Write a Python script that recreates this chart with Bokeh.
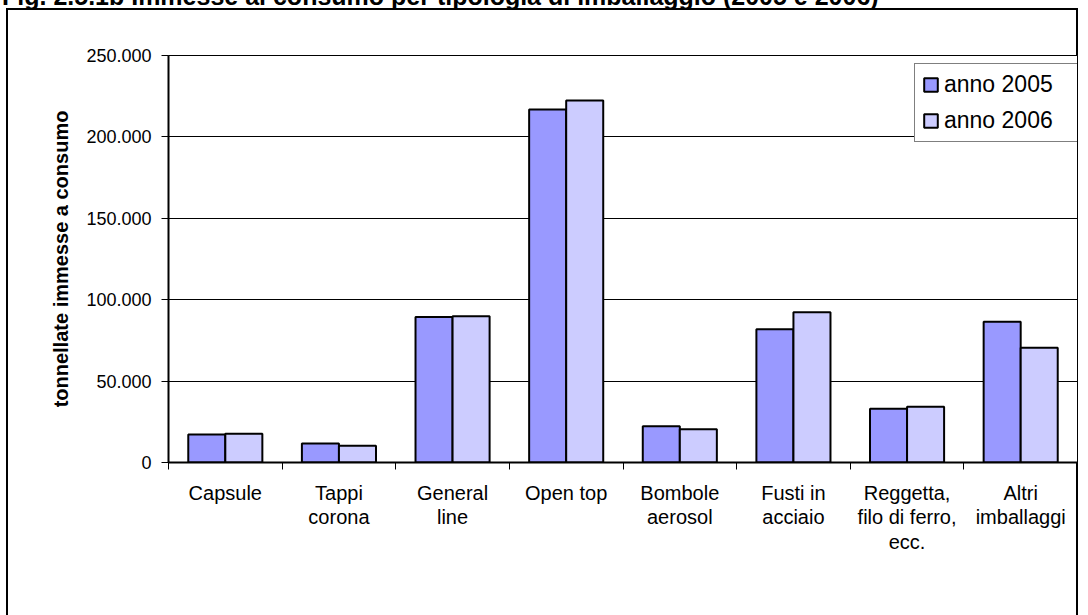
from bokeh.plotting import figure
from bokeh.models import (Range1d, FixedTicker, ColumnDataSource, Legend, LegendItem, Div)
from bokeh.embed import file_html
from bokeh.resources import INLINE

# ---- data ----
categories = ["Capsule", "Tappi\ncorona", "General\nline", "Open top", "Bombole\naerosol",
              "Fusti in\nacciaio", "Reggetta,\nfilo di ferro,\necc.", "Altri\nimballaggi"]
anno_2005 = [17200, 11700, 89300, 216800, 22300, 81900, 33000, 86400]
anno_2006 = [17600, 10300, 89900, 222400, 20500, 92300, 34200, 70500]
series_names = ["anno 2005", "anno 2006"]
y_ticks = [0, 50000, 100000, 150000, 200000, 250000]
title_text = "Fig. 2.5.1b Immesse al consumo per tipologia di imballaggio (2005 e 2006)"
y_label = "tonnellate immesse a consumo"

FONT = "Liberation Sans"
n = len(categories)
centers = [i + 0.5 for i in range(n)]
bar_w = 0.326

p = figure(width=1088, height=615, output_backend="svg", toolbar_location=None,
           x_range=Range1d(0, n), y_range=Range1d(0, 250000),
           min_border_left=168, min_border_right=11, min_border_top=55, min_border_bottom=153)
p.background_fill_color = "white"
p.border_fill_alpha = 0
p.outline_line_color = "black"
p.outline_line_width = 1

src05 = ColumnDataSource(dict(x=[c - bar_w / 2 for c in centers], top=anno_2005))
src06 = ColumnDataSource(dict(x=[c + bar_w / 2 for c in centers], top=anno_2006))
r1 = p.vbar(x="x", top="top", width=bar_w, source=src05, fill_color="#9999FF",
            line_color="black", line_width=2)
r2 = p.vbar(x="x", top="top", width=bar_w, source=src06, fill_color="#CCCCFF",
            line_color="black", line_width=2)

# x axis
xa = p.xaxis[0]
xa.ticker = FixedTicker(ticks=centers, minor_ticks=list(range(n + 1)))
xa.major_label_overrides = {c: lab for c, lab in zip(centers, categories)}
xa.major_tick_out = 0
xa.major_tick_in = 0
xa.minor_tick_out = 7
xa.minor_tick_in = 0
xa.minor_tick_line_color = "black"
xa.minor_tick_line_width = 1
xa.axis_line_color = "black"
xa.axis_line_width = 2
xa.major_label_text_font = FONT
xa.major_label_text_font_size = "20px"
xa.major_label_text_color = "black"
xa.major_label_text_line_height = 1.12
xa.major_label_standoff = 12
p.xgrid.visible = False

# y axis
ya = p.yaxis[0]
ya.ticker = FixedTicker(ticks=y_ticks, minor_ticks=[])
ya.major_label_overrides = {v: f"{v:,}".replace(",", ".") for v in y_ticks}
ya.major_tick_out = 7
ya.major_tick_in = 0
ya.major_tick_line_color = "black"
ya.axis_line_color = "black"
ya.axis_line_width = 2
ya.major_label_text_font = FONT
ya.major_label_text_font_size = "18px"
ya.major_label_text_color = "black"
ya.major_label_standoff = 10
ya.axis_label = y_label
ya.axis_label_text_font = FONT
ya.axis_label_text_font_size = "20px"
ya.axis_label_text_font_style = "bold"
ya.axis_label_text_color = "black"
ya.axis_label_standoff = 11
p.ygrid.ticker = FixedTicker(ticks=y_ticks)
p.ygrid.grid_line_color = "black"
p.ygrid.grid_line_width = 1

# legend
legend = Legend(items=[LegendItem(label=series_names[0], renderers=[r1]),
                       LegendItem(label=series_names[1], renderers=[r2])],
                location=(746, 320), padding=7, spacing=9, glyph_width=17, glyph_height=17,
                label_standoff=5, label_width=140,
                label_text_font=FONT, label_text_font_size="23px", label_text_color="black",
                border_line_color="black", border_line_width=1.5,
                background_fill_color="white", background_fill_alpha=1)
p.add_layout(legend)

# chart title (cut by the top edge of the page, as in the reference)
title_div = Div(text=title_text, styles={
    "position": "absolute", "left": "2px", "top": "-16px", "margin": "0", "padding": "0",
    "font-family": FONT, "font-size": "25px", "font-weight": "bold", "line-height": "25px",
    "white-space": "nowrap", "color": "black", "z-index": "2"})

# outer chart border
frame_div = Div(text="", width=1072, height=700, styles={
    "position": "absolute", "left": "6px", "top": "8px", "margin": "0", "padding": "0",
    "width": "1072px", "height": "700px", "box-sizing": "border-box",
    "border": "2px solid black", "z-index": "-1"})

open("out.html", "w").write(file_html([frame_div, title_div, p], INLINE))
